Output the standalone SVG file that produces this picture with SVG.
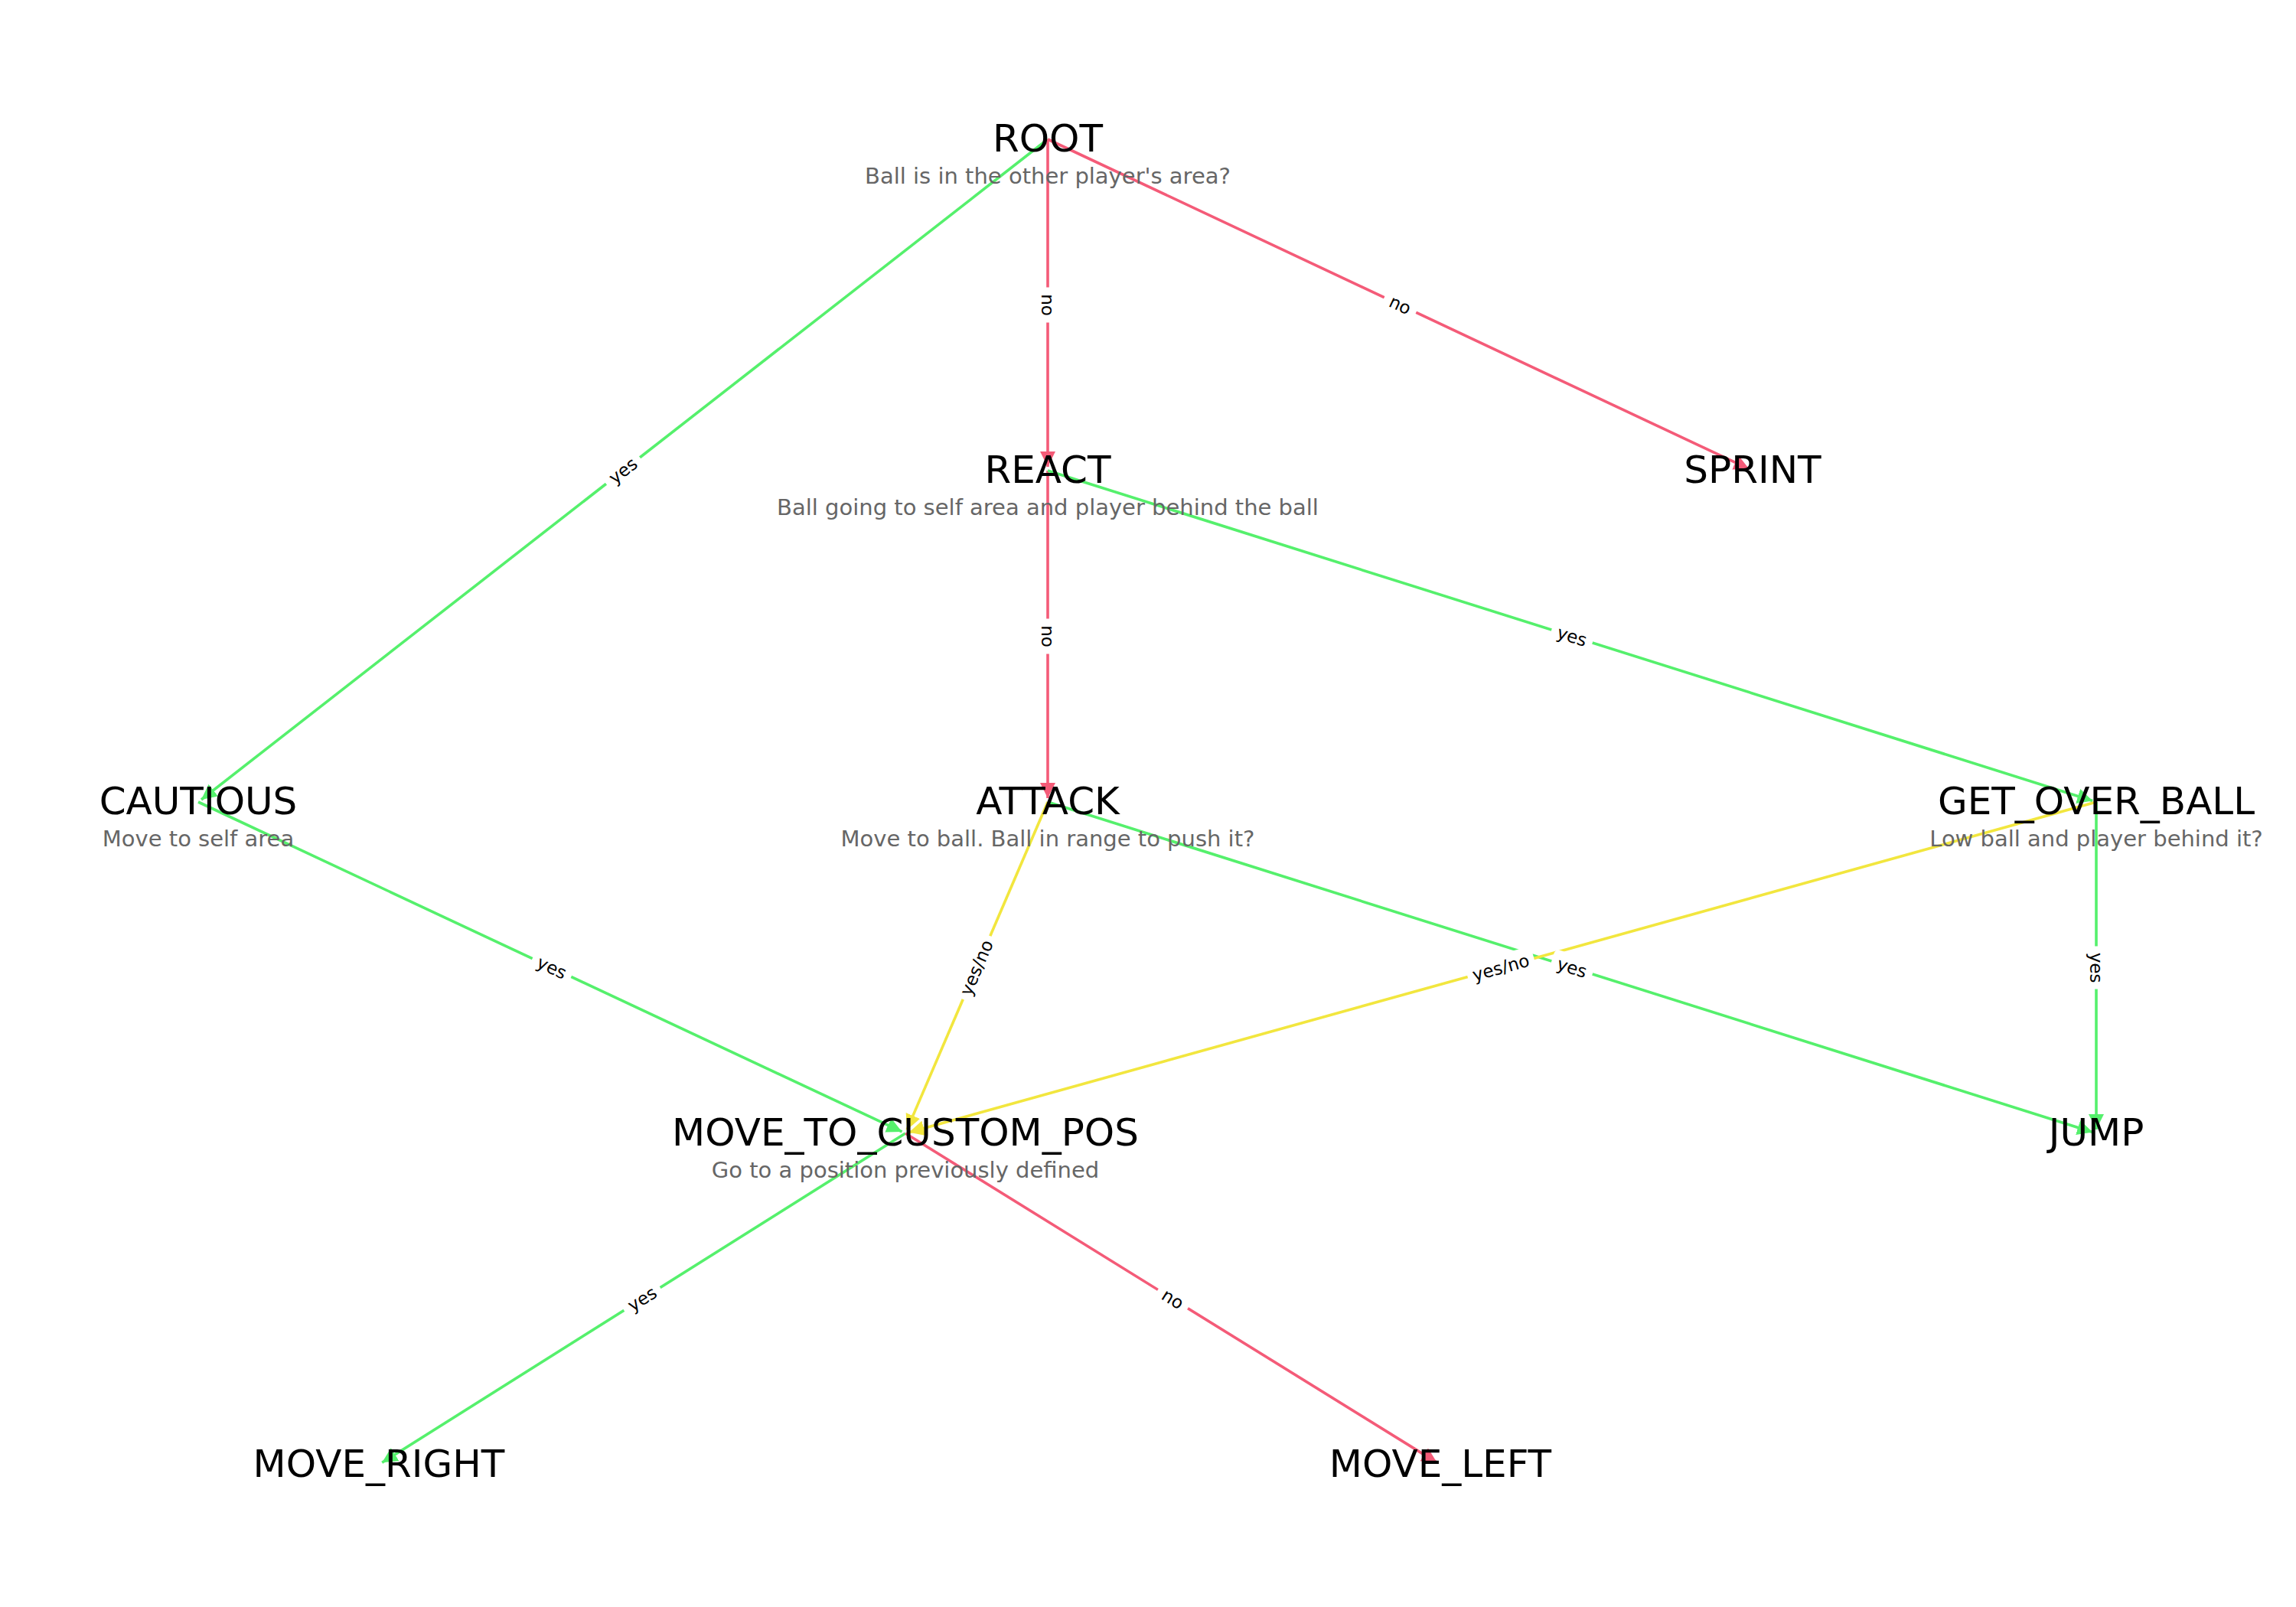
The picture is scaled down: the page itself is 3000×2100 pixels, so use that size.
<svg xmlns="http://www.w3.org/2000/svg" width="3000" height="2100" viewBox="0 0 3000 2100">
<style>
  .t { font-family: "DejaVu Sans", "Liberation Sans", sans-serif; font-size: 50px; fill: #000; text-anchor: middle; }
  .s { font-family: "DejaVu Sans", "Liberation Sans", sans-serif; font-size: 29px; fill: #666666; text-anchor: middle; }
  .el { font-family: "DejaVu Sans", "Liberation Sans", sans-serif; font-size: 23px; fill: #000; text-anchor: middle; }
  .lb { fill: #ffffff; stroke: none; }
  .g { stroke: #55f06c; stroke-width: 3.6; fill: none; marker-end: url(#ag); }
  .r { stroke: #f45b78; stroke-width: 3.6; fill: none; marker-end: url(#ar); }
  .y { stroke: #f2e63e; stroke-width: 3.6; fill: none; marker-end: url(#ay); }
</style>
<defs>
  <marker id="ag" markerUnits="userSpaceOnUse" markerWidth="21" markerHeight="21" refX="20" refY="10" orient="auto" viewBox="0 0 21 21"><path d="M0,0 L20,10 L0,20 z" fill="#55f06c"/></marker>
  <marker id="ar" markerUnits="userSpaceOnUse" markerWidth="21" markerHeight="21" refX="20" refY="10" orient="auto" viewBox="0 0 21 21"><path d="M0,0 L20,10 L0,20 z" fill="#f45b78"/></marker>
  <marker id="ay" markerUnits="userSpaceOnUse" markerWidth="21" markerHeight="21" refX="20" refY="10" orient="auto" viewBox="0 0 21 21"><path d="M0,0 L20,10 L0,20 z" fill="#f2e63e"/></marker>
</defs>
<rect width="3000" height="2100" fill="#ffffff"/>
<g id="connectors">
  <line class="g" x1="1369" y1="182" x2="263" y2="1045"/>
  <line class="r" x1="1369" y1="182" x2="1369" y2="610"/>
  <line class="r" x1="1369" y1="182" x2="2285.5" y2="612.9"/>
  <line class="r" x1="1369" y1="615" x2="1369" y2="1043"/>
  <line class="g" x1="1369" y1="615" x2="2734.2" y2="1046.5"/>
  <line class="g" x1="259" y1="1048" x2="1178.5" y2="1478.9"/>
  <line class="y" x1="1369" y1="1048" x2="1185" y2="1476.4"/>
  <line class="g" x1="1369" y1="1048" x2="2734.2" y2="1479.5"/>
  <line class="y" x1="2739" y1="1048" x2="1187.8" y2="1479.7"/>
  <line class="g" x1="2739" y1="1048" x2="2739" y2="1476"/>
  <line class="g" x1="1183" y1="1481" x2="499.2" y2="1911.3"/>
  <line class="r" x1="1183" y1="1481" x2="1877.7" y2="1911.4"/>

  <g transform="translate(814,615) rotate(-37.96)"><rect class="lb" x="-28" y="-17" width="56" height="34" rx="6"/><text class="el" y="8">yes</text></g>
  <g transform="translate(1369,398.5) rotate(90)"><rect class="lb" x="-23" y="-17" width="46" height="34" rx="6"/><text class="el" y="8">no</text></g>
  <g transform="translate(1829.5,398.5) rotate(25.18)"><rect class="lb" x="-23" y="-17" width="46" height="34" rx="6"/><text class="el" y="8">no</text></g>
  <g transform="translate(1369,831.5) rotate(90)"><rect class="lb" x="-23" y="-17" width="46" height="34" rx="6"/><text class="el" y="8">no</text></g>
  <g transform="translate(2054,831.5) rotate(17.54)"><rect class="lb" x="-28" y="-17" width="56" height="34" rx="6"/><text class="el" y="8">yes</text></g>
  <g transform="translate(721,1264.5) rotate(25.11)"><rect class="lb" x="-28" y="-17" width="56" height="34" rx="6"/><text class="el" y="8">yes</text></g>
  <g transform="translate(1276,1264.5) rotate(-66.75)"><rect class="lb" x="-45" y="-17" width="90" height="34" rx="6"/><text class="el" y="8">yes/no</text></g>
  <g transform="translate(2054,1264.5) rotate(17.54)"><rect class="lb" x="-28" y="-17" width="56" height="34" rx="6"/><text class="el" y="8">yes</text></g>
  <g transform="translate(1961,1264.5) rotate(-15.55)"><rect class="lb" x="-45" y="-17" width="90" height="34" rx="6"/><text class="el" y="8">yes/no</text></g>
  <g transform="translate(2739,1264.5) rotate(90)"><rect class="lb" x="-28" y="-17" width="56" height="34" rx="6"/><text class="el" y="8">yes</text></g>
  <g transform="translate(839,1697.5) rotate(-32.19)"><rect class="lb" x="-28" y="-17" width="56" height="34" rx="6"/><text class="el" y="8">yes</text></g>
  <g transform="translate(1532.5,1697.5) rotate(31.77)"><rect class="lb" x="-23" y="-17" width="46" height="34" rx="6"/><text class="el" y="8">no</text></g>
</g>
<g id="nodes">
  <g id="ROOT"><text class="t" x="1369" y="198">ROOT</text><text class="s" x="1369" y="240">Ball is in the other player's area?</text></g>
  <g id="REACT"><text class="t" x="1369" y="631">REACT</text><text class="s" x="1369" y="673">Ball going to self area and player behind the ball</text></g>
  <g id="SPRINT"><text class="t" x="2290" y="631">SPRINT</text></g>
  <g id="CAUTIOUS"><text class="t" x="259" y="1064">CAUTIOUS</text><text class="s" x="259" y="1106">Move to self area</text></g>
  <g id="ATTACK"><text class="t" x="1369" y="1064">ATTACK</text><text class="s" x="1369" y="1106">Move to ball. Ball in range to push it?</text></g>
  <g id="GET_OVER_BALL"><text class="t" x="2739" y="1064">GET_OVER_BALL</text><text class="s" x="2739" y="1106">Low ball and player behind it?</text></g>
  <g id="MOVE_TO_CUSTOM_POS"><text class="t" x="1183" y="1497">MOVE_TO_CUSTOM_POS</text><text class="s" x="1183" y="1539">Go to a position previously defined</text></g>
  <g id="JUMP"><text class="t" x="2739" y="1497">JUMP</text></g>
  <g id="MOVE_RIGHT"><text class="t" x="495" y="1930">MOVE_RIGHT</text></g>
  <g id="MOVE_LEFT"><text class="t" x="1882" y="1930">MOVE_LEFT</text></g>
</g>
</svg>
